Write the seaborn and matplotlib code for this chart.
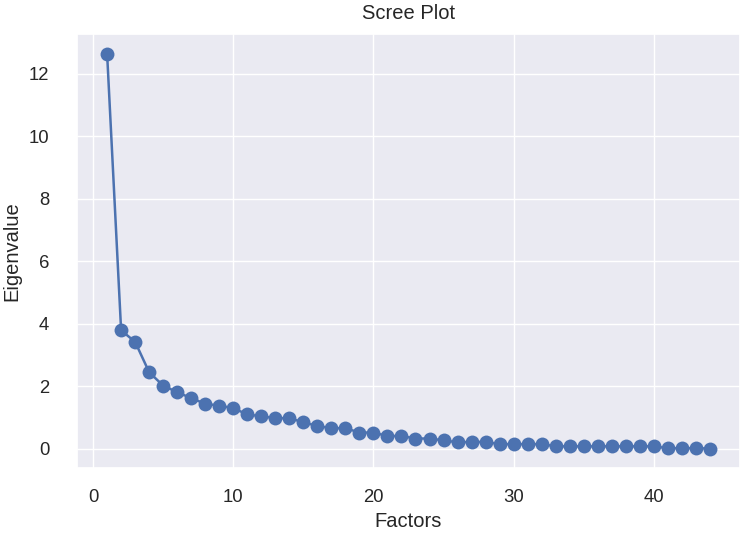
import seaborn as sns
import matplotlib.pyplot as plt
import pandas as pd

# Eigenvalues (factor 1..44)
factors = list(range(1, 45))
eigenvalues = [
    12.64, 3.79, 3.42, 2.45, 2.02, 1.81, 1.62, 1.44, 1.38, 1.30,
    1.10, 1.04, 0.98, 0.98, 0.85, 0.73, 0.66, 0.66, 0.52, 0.52,
    0.41, 0.41, 0.33, 0.33, 0.27, 0.21, 0.22, 0.22, 0.15, 0.15,
    0.15, 0.15, 0.08, 0.08, 0.08, 0.08, 0.08, 0.08, 0.08, 0.08,
    0.02, 0.02, 0.02, 0.01,
]

df = pd.DataFrame({'Factors': factors, 'Eigenvalue': eigenvalues})

sns.set_theme(style='darkgrid')
plt.rcParams['font.family'] = ['Liberation Sans', 'DejaVu Sans']

fig, ax = plt.subplots(figsize=(7.4, 5.37), dpi=100)
fig.subplots_adjust(left=0.104, right=1.0, bottom=0.128, top=0.937)

sns.lineplot(data=df, x='Factors', y='Eigenvalue', marker='o',
             markersize=10, markeredgewidth=0, linewidth=1.8,
             color='#4C72B0', ax=ax)

ax.set_title('Scree Plot', fontsize=14.5, pad=11)
ax.set_xlabel('Factors', fontsize=14.5, labelpad=4)
ax.set_ylabel('Eigenvalue', fontsize=14.5, labelpad=5)
ax.tick_params(axis='x', labelsize=13.3, pad=9)
ax.tick_params(axis='y', labelsize=13.3, pad=14)

plt.savefig('out.png', dpi=100)
plt.close()
